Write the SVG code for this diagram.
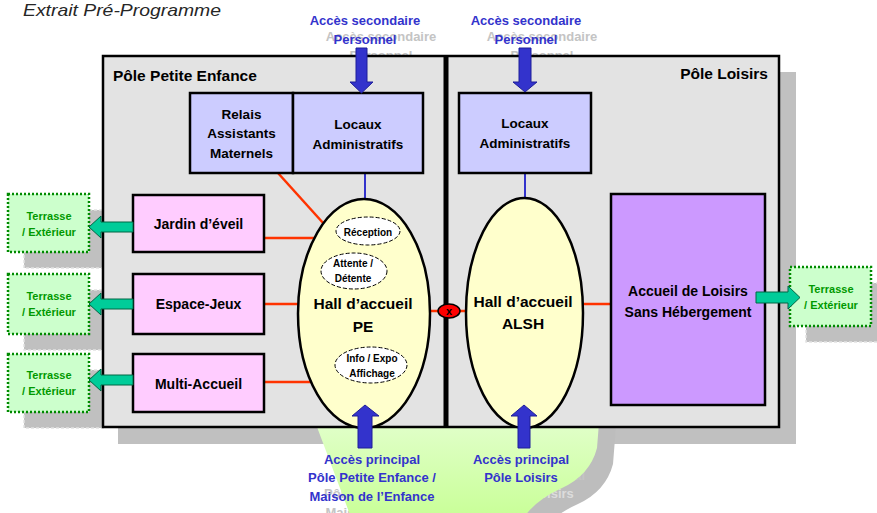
<svg xmlns="http://www.w3.org/2000/svg" width="877" height="513" viewBox="0 0 877 513">
<defs>
<linearGradient id="gr" x1="0" y1="0" x2="0" y2="1">
<stop offset="0" stop-color="#e4ffd0"/>
<stop offset="1" stop-color="#c8ff96"/>
</linearGradient>
<path id="court" d="M310,410 L600,410 L597,448 Q590,475 562,488 Q535,500 522,520 L352,520 L317,427 Z"/>
<style>
text{font-family:"Liberation Sans",Arial,sans-serif;font-weight:bold;text-anchor:middle;fill:#000}
.acc{fill:#3333cc;font-size:13px}
.ghost{fill:#c4c4c4;font-size:13px}
.box{stroke:#000;stroke-width:2.5}
.lav{fill:#ccccff}
.pink{fill:#ffccff}
.ter{fill:#ccffcc;stroke:#008a00;stroke-width:2.5;stroke-dasharray:2 2}
.ters{fill:#c0c0c0;stroke:#e2e2e2;stroke-width:1.5;stroke-dasharray:3 2}
.tt{fill:#009900;font-size:11px}
.red{stroke:#ff3300;stroke-width:2.5;fill:none}
.blu{stroke:#3333cc;stroke-width:2;fill:none}
.barr{fill:#3333cc;stroke:#1f1f99;stroke-width:1}
.garr{fill:#00cc99;stroke:#006644;stroke-width:1}
.hall{fill:#ffffcc;stroke:#000;stroke-width:2.5}
.sub{fill:#fff;stroke:#000;stroke-width:1;stroke-dasharray:4 2}
.st{font-size:10px}
.bt{font-size:13.5px}
.nt{font-size:14px}
.ht{font-size:15.5px}
</style>
</defs>

<text x="23" y="16" style="font-weight:normal;font-style:italic;text-anchor:start;fill:#262626;font-size:17px" textLength="198" lengthAdjust="spacingAndGlyphs">Extrait Pré-Programme</text>

<!-- frame shadow -->
<rect x="118" y="72" width="678" height="372" fill="#c0c0c0"/>

<!-- green court shadow + ghost texts + court -->
<use href="#court" transform="translate(16,16)" fill="#bdbdbd"/>
<g id="ghosts">
<text class="ghost" x="381" y="41">Accès secondaire</text>
<text class="ghost" x="381" y="60">Personnel</text>
<text class="ghost" x="542" y="41">Accès secondaire</text>
<text class="ghost" x="542" y="60">Personnel</text>
<text class="ghost" x="388" y="480">Accès principal</text>
<text class="ghost" x="388" y="498">Pôle Petite Enfance /</text>
<text class="ghost" x="388" y="517">Maison de l’Enfance</text>
<text class="ghost" x="537" y="480">Accès principal</text>
<text class="ghost" x="537" y="498" style="fill:#dcdcdc">Pôle Loisirs</text>
</g>
<use href="#court" fill="url(#gr)"/>

<!-- terrace shadows -->
<rect class="ters" x="24" y="210" width="81" height="58"/>
<rect class="ters" x="24" y="290" width="81" height="60"/>
<rect class="ters" x="24" y="370" width="81" height="58"/>

<!-- main frame -->
<g id="frame">
<rect x="103" y="56" width="676" height="371" fill="#e3e3e3" stroke="#000" stroke-width="2.5"/>
<line x1="446" y1="56" x2="446" y2="427" stroke="#000" stroke-width="5"/>
<text x="113" y="81" style="text-anchor:start;font-size:15.5px">Pôle Petite Enfance</text>
<text x="768" y="79" style="text-anchor:end;font-size:15.5px">Pôle Loisirs</text>
</g>

<g id="right-terrace">
<rect class="ters" x="806" y="283" width="81" height="59"/>
<rect class="ter" x="790" y="267" width="81" height="59"/>
<text class="tt" x="831" y="293">Terrasse</text>
<text class="tt" x="831" y="309">/ Extérieur</text>
</g>

<g id="connectors">
<line class="red" x1="278" y1="173" x2="324" y2="224"/>
<line class="red" x1="264" y1="238" x2="316" y2="238"/>
<line class="red" x1="264" y1="304" x2="299" y2="304"/>
<line class="red" x1="264" y1="382" x2="313" y2="382"/>
<line class="red" x1="430" y1="311" x2="440" y2="311"/>
<line class="red" x1="458" y1="311" x2="467" y2="311"/>
<line class="red" x1="583" y1="304" x2="611" y2="304"/>
<line class="blu" x1="365" y1="173" x2="365" y2="199"/>
<line class="blu" x1="525" y1="173" x2="525" y2="198"/>
</g>

<g id="terrasse1">
<rect class="ter" x="8" y="194" width="81" height="58"/>
<text class="tt" x="49" y="220">Terrasse</text>
<text class="tt" x="49" y="236">/ Extérieur</text>
</g>
<g id="terrasse2">
<rect class="ter" x="8" y="274" width="81" height="60"/>
<text class="tt" x="49" y="300">Terrasse</text>
<text class="tt" x="49" y="316">/ Extérieur</text>
</g>
<g id="terrasse3">
<rect class="ter" x="8" y="354" width="81" height="58"/>
<text class="tt" x="49" y="379">Terrasse</text>
<text class="tt" x="49" y="395">/ Extérieur</text>
</g>

<g id="relais">
<rect class="box lav" x="190" y="93" width="103" height="80"/>
<text class="bt" x="241.5" y="119">Relais</text>
<text class="bt" x="241.5" y="138">Assistants</text>
<text class="bt" x="241.5" y="158">Maternels</text>
</g>
<g id="locaux-pe">
<rect class="box lav" x="293" y="93" width="130" height="80"/>
<text class="bt" x="358" y="129">Locaux</text>
<text class="bt" x="358" y="149">Administratifs</text>
</g>
<g id="locaux-alsh">
<rect class="box lav" x="459" y="93" width="132" height="80"/>
<text class="bt" x="525" y="128">Locaux</text>
<text class="bt" x="525" y="148">Administratifs</text>
</g>

<g id="jardin">
<rect class="box pink" x="133" y="195" width="131" height="57"/>
<text class="nt" x="198.5" y="229">Jardin d’éveil</text>
</g>
<g id="espace">
<rect class="box pink" x="133" y="274" width="131" height="60"/>
<text class="nt" x="198.5" y="309">Espace-Jeux</text>
</g>
<g id="multi">
<rect class="box pink" x="133" y="354" width="131" height="58"/>
<text class="nt" x="198.5" y="389">Multi-Accueil</text>
</g>

<g id="alsh">
<rect class="box" fill="#cc99ff" x="611" y="194" width="154" height="211"/>
<text class="nt" x="688" y="296">Accueil de Loisirs</text>
<text class="nt" x="688" y="317">Sans Hébergement</text>
</g>

<g id="hall-pe">
<ellipse class="hall" cx="364" cy="313.5" rx="66" ry="114.5"/>
<text class="ht" x="363" y="309">Hall d’accueil</text>
<text class="ht" x="363" y="332">PE</text>
</g>
<g id="reception">
<ellipse class="sub" cx="368" cy="231" rx="32" ry="14"/>
<text class="st" x="368" y="236">Réception</text>
</g>
<g id="attente">
<ellipse class="sub" cx="354" cy="271" rx="33" ry="18"/>
<text class="st" x="353" y="267">Attente /</text>
<text class="st" x="353" y="282">Détente</text>
</g>
<g id="info">
<ellipse class="sub" cx="371" cy="365" rx="36" ry="18"/>
<text class="st" x="372" y="362">Info / Expo</text>
<text class="st" x="372" y="377">Affichage</text>
</g>
<g id="hall-alsh">
<ellipse class="hall" cx="524.5" cy="313" rx="58.5" ry="115"/>
<text class="ht" x="523" y="307">Hall d’accueil</text>
<text class="ht" x="523" y="329">ALSH</text>
</g>

<g id="porte">
<ellipse cx="449" cy="311" rx="11" ry="7" fill="#ff0000" stroke="#000" stroke-width="1.5"/>
<text x="449" y="315" style="font-size:11px">x</text>
</g>

<g id="arrows">
<polygon class="garr" points="133,222 101,222 101,216 89,227 101,238 101,232 133,232"/>
<polygon class="garr" points="133,299 101,299 101,293 89,304 101,315 101,309 133,309"/>
<polygon class="garr" points="133,375 101,375 101,369 89,380 101,391 101,385 133,385"/>
<polygon class="garr" points="756,292 788,292 788,286 800,297.5 788,309 788,303 756,303"/>
<polygon class="barr" points="356,48 367,48 367,82 373,82 361.5,93 350,82 356,82"/>
<polygon class="barr" points="519,48 531,48 531,82 537,82 525,92 513,82 519,82"/>
<polygon class="barr" points="358,448 372,448 372,416 379,416 365,405 352,416 358,416"/>
<polygon class="barr" points="518,448 530,448 530,416 537,416 524,405 511,416 518,416"/>
</g>

<g id="labels">
<text class="acc" x="365" y="25">Accès secondaire</text>
<text class="acc" x="365" y="44">Personnel</text>
<text class="acc" x="526" y="25">Accès secondaire</text>
<text class="acc" x="526" y="44">Personnel</text>
<text class="acc" x="372" y="464">Accès principal</text>
<text class="acc" x="372" y="482">Pôle Petite Enfance /</text>
<text class="acc" x="372" y="501">Maison de l’Enfance</text>
<text class="acc" x="521" y="464">Accès principal</text>
<text class="acc" x="521" y="482">Pôle Loisirs</text>
</g>
</svg>
